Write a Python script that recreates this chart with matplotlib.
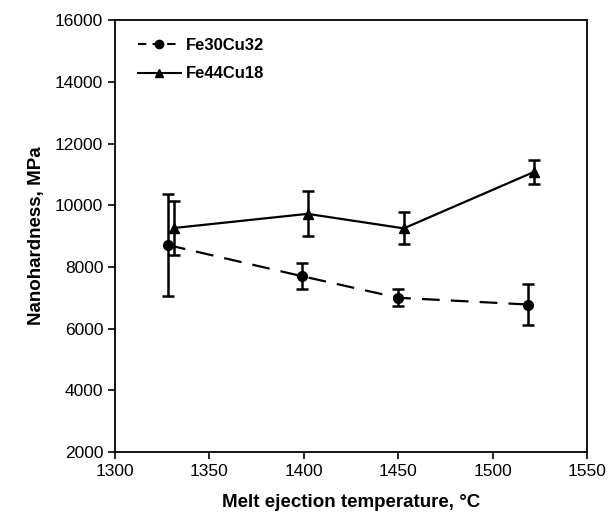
import matplotlib
matplotlib.use("Agg")
import matplotlib.pyplot as plt
from matplotlib.lines import Line2D

plt.rcParams['font.family'] = ['Liberation Sans', 'DejaVu Sans']

# Fe30Cu32 (circles, dashed)
t_fe30 = [1328, 1399, 1450, 1519]
h_fe30 = [8710, 7700, 7000, 6780]
e_fe30 = [1660, 420, 270, 650]

# Fe44Cu18 (triangles, solid)
t_fe44 = [1331, 1402, 1453, 1522]
h_fe44 = [9260, 9720, 9250, 11080]
e_fe44 = [880, 725, 520, 400]

fig = plt.figure(figsize=(6.12, 5.26), dpi=100)
ax = fig.add_axes([0.188, 0.1407, 0.771, 0.821])

ax.errorbar(t_fe30, h_fe30, yerr=e_fe30, fmt='o', linestyle=(0, (8, 5)), color='black',
            markersize=7, linewidth=1.6, elinewidth=1.8, capsize=4, capthick=1.8)
ax.errorbar(t_fe44, h_fe44, yerr=e_fe44, fmt='^', linestyle='-', color='black',
            markersize=7, linewidth=1.6, elinewidth=1.8, capsize=4, capthick=1.8)

ax.set_xlim(1300, 1550)
ax.set_ylim(2000, 16000)
ax.set_xticks(range(1300, 1551, 50))
ax.set_yticks(range(2000, 16001, 2000))
ax.tick_params(direction='out', length=5, width=1.2, labelsize=12.5)
for s in ax.spines.values():
    s.set_linewidth(1.3)

ax.set_xlabel('Melt ejection temperature, °C', fontsize=13.5, fontweight='bold', labelpad=11)
ax.set_ylabel('Nanohardness, MPa', fontsize=13.5, fontweight='bold', labelpad=7)

handles = [
    Line2D([], [], color='black', linestyle=(0, (4, 3)), marker='o', markersize=6, linewidth=1.5),
    Line2D([], [], color='black', linestyle='-', marker='^', markersize=6, linewidth=1.5),
]
ax.legend(handles, ['Fe30Cu32', 'Fe44Cu18'], loc='upper left', frameon=False,
          handlelength=2.6, handletextpad=0.3, labelspacing=0.82,
          prop={'weight': 'bold', 'size': 12}, borderaxespad=0.4,
          bbox_to_anchor=(0.02, 0.99))

fig.savefig('out.png', dpi=100)
